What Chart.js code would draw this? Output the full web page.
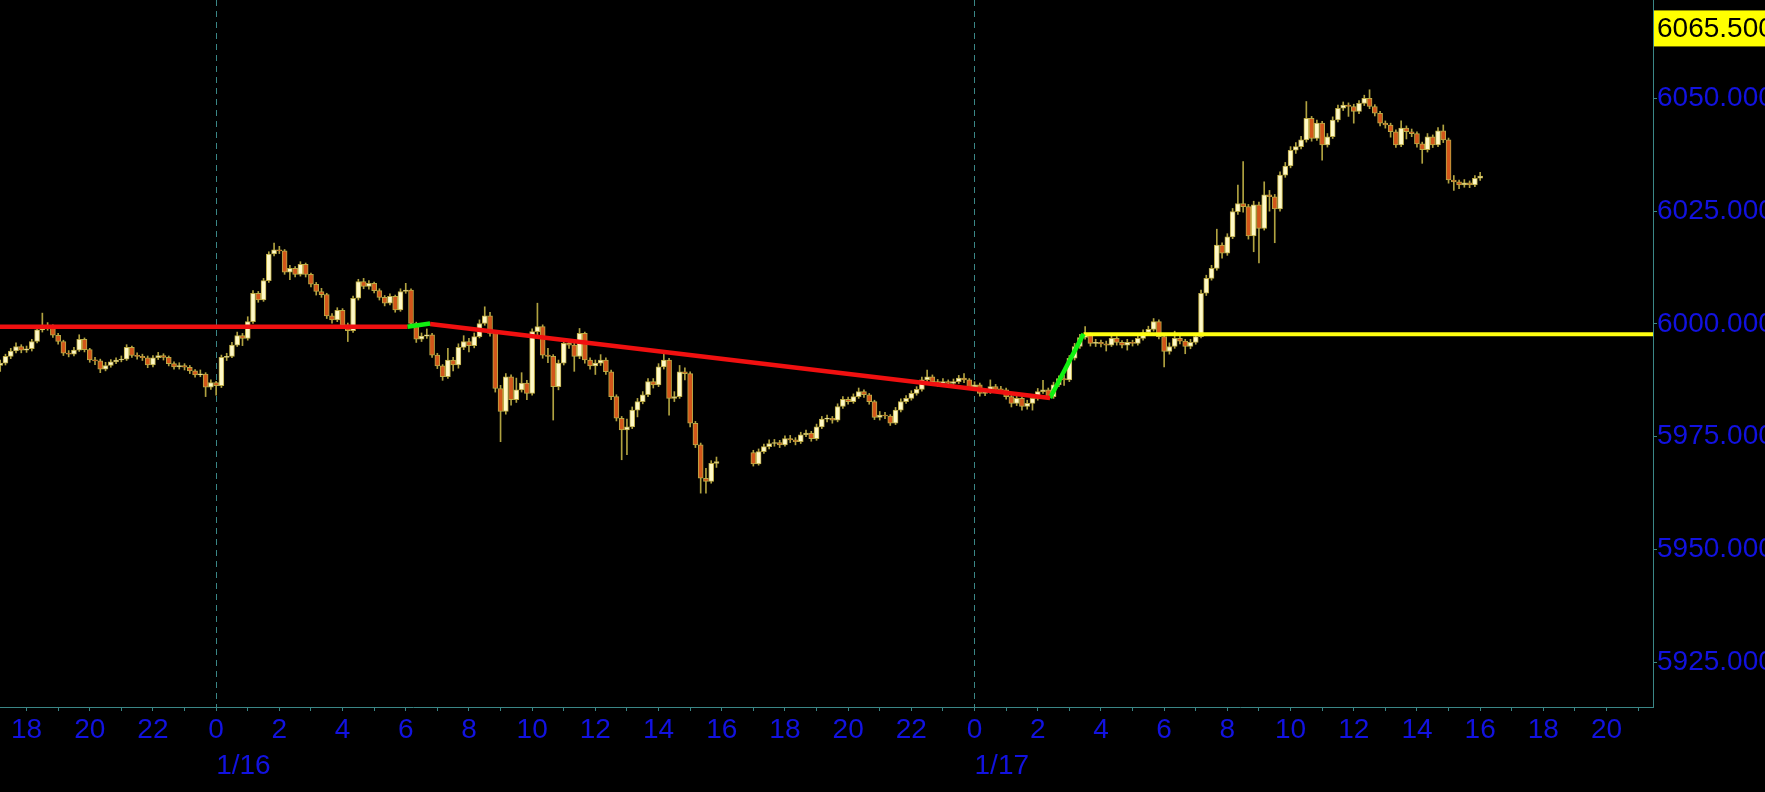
<!DOCTYPE html>
<html>
<head>
<meta charset="utf-8">
<script src="https://cdn.jsdelivr.net/npm/chart.js@4.4.1/dist/chart.umd.min.js"></script>
<style>
html,body{margin:0;padding:0;background:#000;overflow:hidden}
canvas{display:block}
</style>
</head>
<body>
<canvas id="c" width="1765" height="792"></canvas>
<script>
// ---- time layout of 10-minute bars (hours relative to 1/16 00:00) ----
const barMinutes = 10;
const session1StartHour = -41 / 6;   // 1/15 17:10
const session2StartHour = 17;        // 1/16 17:00

// ---- session 1 (1/15 17:10 - 1/16 15:50) ----
const opens1 = [
5990.8,5991.3,5992.8,5994.0,5995.0,5994.2,5994.5,5996.1,5998.7,5999.6,
5999.3,5997.5,5996.1,5993.5,5993.3,5994.2,5996.6,5994.3,5992.0,5991.8,
5990.0,5990.8,5991.6,5992.0,5992.2,5994.8,5993.0,5992.8,5992.5,5990.9,
5992.5,5993.0,5992.6,5991.2,5990.5,5990.8,5990.4,5989.6,5988.7,5988.9,
5986.0,5987.0,5986.3,5992.6,5992.8,5995.3,5997.4,5996.8,6000.5,6006.8,
6005.3,6009.6,6015.5,6016.4,6016.2,6011.5,6012.3,6011.0,6013.2,6011.0,
6008.8,6007.2,6006.5,6001.8,6000.9,6003.0,5999.8,5998.5,6005.7,6009.4,
6008.3,6009.0,6007.4,6005.9,6004.6,6006.1,6003.1,6007.2,6007.5,6000.1,
5996.6,5997.3,5997.6,5993.1,5990.7,5988.3,5992.0,5990.9,5994.8,5996.1,
5995.2,5997.2,6000.1,6001.8,5997.9,5985.7,5980.6,5988.3,5983.2,5985.4,
5986.9,5984.6,5998.3,5999.4,5993.1,5992.8,5986.1,5991.3,5995.7,5995.3,
5992.8,5997.9,5992.0,5990.7,5991.3,5992.0,5989.4,5983.9,5979.1,5976.5,
5977.2,5980.9,5982.8,5984.3,5987.2,5986.5,5990.5,5992.0,5983.5,5983.9,
5989.4,5989.0,5978.0,5973.2,5965.8,5965.1,5969.1];
const highs1 = [
5992.0,5993.3,5994.6,5995.8,5995.4,5995.1,5996.6,5999.2,6002.4,6000.3,
5999.8,5997.9,5996.4,5994.1,5994.8,5997.6,5996.9,5994.6,5992.6,5992.2,
5991.5,5992.1,5992.5,5992.9,5995.4,5995.1,5993.6,5993.3,5992.9,5993.0,
5993.7,5993.4,5992.9,5991.6,5991.4,5991.2,5990.8,5989.9,5989.8,5989.2,
5987.6,5987.3,5993.1,5993.5,5995.9,5998.2,5997.9,6001.6,6007.4,6007.2,
6010.1,6016.0,6017.9,6017.2,6016.5,6013.0,6012.7,6013.8,6013.5,6011.3,
6009.2,6007.9,6006.8,6002.3,6003.6,6003.4,6000.2,6006.2,6009.9,6010.1,
6009.6,6009.3,6007.8,6006.3,6006.7,6006.4,6007.8,6009.0,6007.8,6000.4,
5998.0,5998.9,5997.9,5993.5,5991.0,5994.6,5992.6,5995.6,5997.4,5996.8,
5998.0,6000.9,6003.8,6002.6,5998.3,5986.4,5989.0,5988.7,5988.0,5989.2,
5987.5,5998.9,6004.6,5999.8,5994.6,5993.2,5992.0,5996.4,5996.3,5995.8,
5999.0,5998.2,5992.5,5992.0,5993.2,5992.5,5989.8,5984.3,5979.5,5978.9,
5981.6,5983.5,5985.0,5987.9,5987.9,5991.2,5993.5,5992.4,5985.0,5990.8,
5990.3,5989.4,5978.4,5973.6,5968.0,5969.7,5970.5];
const lows1 = [
5989.5,5990.9,5992.3,5993.6,5993.6,5993.7,5994.0,5995.8,5998.2,5998.6,
5997.0,5995.5,5993.0,5992.7,5992.9,5993.9,5993.8,5991.5,5991.0,5989.2,
5989.6,5990.4,5991.2,5991.6,5991.9,5992.6,5992.2,5991.9,5990.3,5990.5,
5992.1,5992.0,5990.7,5990.0,5990.0,5989.8,5989.0,5988.2,5988.3,5983.9,
5985.5,5984.2,5985.9,5991.9,5992.5,5995.0,5995.2,5996.4,6000.1,6004.8,
6005.0,6009.2,6015.1,6015.6,6011.0,6009.8,6010.4,6010.6,6010.4,6008.2,
6006.4,6005.9,6001.2,6000.2,6000.5,5999.3,5996.1,5998.1,6005.3,6007.8,
6007.7,6006.9,6005.3,6004.0,6004.2,6002.6,6002.8,6006.8,5999.6,5995.9,
5996.1,5996.8,5992.6,5990.1,5987.5,5987.9,5989.6,5990.2,5994.3,5993.8,
5994.7,5996.9,5999.7,5997.3,5984.9,5973.9,5980.0,5982.0,5982.6,5984.9,
5983.2,5984.2,5997.6,5992.4,5991.4,5978.7,5985.4,5990.9,5994.6,5989.5,
5992.3,5991.3,5990.0,5988.8,5990.8,5988.8,5983.2,5978.5,5969.9,5971.0,
5976.8,5979.4,5982.3,5983.9,5985.8,5986.1,5990.0,5979.8,5982.8,5983.5,
5987.6,5977.2,5972.6,5962.5,5962.5,5964.7,5968.2];
const closes1 = [
5991.3,5992.8,5994.0,5995.0,5994.2,5994.5,5996.1,5998.7,5999.6,5999.3,
5997.5,5996.1,5993.5,5993.3,5994.2,5996.6,5994.3,5992.0,5991.8,5990.0,
5990.8,5991.6,5992.0,5992.2,5994.8,5993.0,5992.8,5992.5,5990.9,5992.5,
5993.0,5992.6,5991.2,5990.5,5990.8,5990.4,5989.6,5988.7,5988.9,5986.0,
5987.0,5986.3,5992.6,5992.8,5995.3,5997.4,5996.8,6000.5,6006.8,6005.3,
6009.6,6015.5,6016.4,6016.2,6011.5,6012.3,6011.0,6013.2,6011.0,6008.8,
6007.2,6006.5,6001.8,6000.9,6003.0,5999.8,5998.5,6005.7,6009.4,6008.3,
6009.0,6007.4,6005.9,6004.6,6006.1,6003.1,6007.2,6007.5,6000.1,5996.6,
5997.3,5997.6,5993.1,5990.7,5988.3,5992.0,5990.9,5994.8,5996.1,5995.2,
5997.2,6000.1,6001.8,5997.9,5985.7,5980.6,5988.3,5983.2,5985.4,5986.9,
5984.6,5998.3,5999.4,5993.1,5992.8,5986.1,5991.3,5995.7,5995.3,5992.8,
5997.9,5992.0,5990.7,5991.3,5992.0,5989.4,5983.9,5979.1,5976.5,5977.2,
5980.9,5982.8,5984.3,5987.2,5986.5,5990.5,5992.0,5983.5,5983.9,5989.4,
5989.0,5978.0,5973.2,5965.8,5965.1,5969.1,5969.5];

// ---- session 2 (1/16 17:00 - 1/17 16:00) ----
const opens2 = [
5971.5,5969.0,5971.7,5972.8,5973.5,5973.7,5973.2,5974.6,5974.3,5973.9,
5975.4,5975.8,5974.6,5977.2,5978.9,5979.1,5978.7,5981.7,5983.3,5982.8,
5983.9,5985.0,5984.3,5982.8,5979.3,5979.8,5979.6,5978.0,5980.9,5982.8,
5983.5,5984.6,5985.5,5987.6,5988.3,5987.2,5986.8,5987.2,5986.8,5987.2,
5988.0,5987.6,5986.0,5986.5,5984.6,5985.0,5986.1,5985.5,5985.4,5983.9,
5982.4,5983.5,5981.7,5982.4,5983.5,5985.0,5985.4,5983.9,5986.5,5987.9,
5987.6,5992.4,5995.0,5997.0,5997.6,5995.7,5995.9,5995.6,5995.3,5996.8,
5995.9,5995.3,5995.9,5995.7,5996.8,5998.1,5998.8,6000.5,5997.2,5993.9,
5995.0,5996.8,5996.2,5995.0,5995.9,5997.2,6006.8,6010.1,6012.3,6017.5,
6015.7,6019.3,6024.9,6026.7,6026.0,6019.5,6026.4,6021.2,6028.6,6028.2,
6025.5,6033.0,6035.0,6038.5,6039.3,6040.8,6045.6,6041.1,6044.5,6039.7,
6041.5,6045.2,6047.8,6048.5,6048.2,6047.1,6048.9,6050.0,6048.2,6046.7,
6044.5,6044.1,6042.6,6039.7,6043.4,6042.6,6042.2,6039.9,6038.6,6041.5,
6039.7,6042.8,6040.8,6031.9,6031.5,6030.8,6031.3,6030.8,6032.3];
const highs2 = [
5972.0,5972.3,5973.4,5974.3,5974.4,5974.2,5975.2,5975.3,5974.8,5976.0,
5976.5,5976.2,5977.8,5979.5,5979.8,5979.5,5982.3,5983.9,5983.8,5984.5,
5985.8,5985.4,5984.6,5983.1,5980.6,5980.4,5979.9,5981.5,5983.4,5984.1,
5985.2,5986.1,5988.2,5989.8,5988.7,5987.7,5987.9,5987.6,5987.8,5988.6,
5989.0,5987.9,5987.2,5986.9,5985.7,5987.6,5986.6,5986.2,5985.8,5984.3,
5984.1,5983.9,5983.1,5984.1,5985.7,5987.5,5985.8,5987.1,5988.5,5988.6,
5993.0,5995.7,5997.7,5999.4,5998.0,5996.6,5996.4,5996.2,5997.8,5997.2,
5996.3,5996.6,5996.4,5997.4,5998.7,5999.5,6001.2,6000.9,5997.6,5995.8,
5998.4,5997.4,5996.6,5996.6,5997.9,6007.5,6010.8,6013.0,6021.0,6018.0,
6020.0,6025.6,6030.8,6036.0,6026.5,6027.2,6027.0,6031.5,6029.6,6028.7,
6033.7,6035.8,6039.3,6040.2,6041.6,6049.3,6046.0,6045.2,6044.9,6042.2,
6045.9,6048.5,6049.2,6049.0,6048.7,6049.5,6050.7,6051.9,6048.6,6047.1,
6045.0,6044.5,6043.0,6045.0,6043.9,6043.2,6042.6,6040.3,6042.2,6041.9,
6043.5,6044.1,6041.2,6032.9,6031.9,6032.0,6031.7,6032.9,6033.6];
const lows2 = [
5968.5,5968.7,5971.3,5972.3,5972.9,5972.6,5972.9,5973.7,5973.2,5973.5,
5975.0,5974.0,5974.2,5976.8,5978.3,5978.0,5978.3,5981.3,5982.2,5982.4,
5983.5,5983.7,5982.2,5978.8,5978.7,5979.0,5977.5,5977.7,5980.5,5982.4,
5983.1,5984.2,5985.1,5987.2,5986.6,5986.2,5986.3,5986.2,5986.4,5986.8,
5987.0,5985.5,5985.4,5984.0,5984.1,5984.6,5985.0,5984.7,5983.3,5981.6,
5981.9,5980.9,5981.1,5980.9,5983.1,5984.6,5983.3,5983.5,5986.1,5986.4,
5987.2,5992.0,5994.6,5996.6,5995.1,5995.0,5994.9,5994.0,5995.0,5995.3,
5994.7,5994.2,5995.1,5995.3,5996.4,5997.7,5998.4,5996.7,5990.5,5993.3,
5994.6,5995.6,5993.4,5994.5,5995.5,5996.9,6006.3,6009.7,6011.9,6014.6,
6015.2,6018.9,6024.3,6024.8,6018.8,6016.0,6013.5,6020.8,6025.0,6018.0,
6025.0,6032.5,6034.6,6037.8,6038.8,6040.3,6040.5,6040.7,6036.3,6039.2,
6041.1,6044.8,6047.3,6046.0,6044.5,6046.6,6048.4,6047.7,6046.1,6043.9,
6043.4,6041.4,6039.1,6039.3,6041.0,6041.5,6039.2,6035.6,6038.1,6039.1,
6039.3,6040.2,6031.2,6029.6,6030.0,6030.3,6030.2,6030.4,6031.8];
const closes2 = [
5969.0,5971.7,5972.8,5973.5,5973.7,5973.2,5974.6,5974.3,5973.9,5975.4,
5975.8,5974.6,5977.2,5978.9,5979.1,5978.7,5981.7,5983.3,5982.8,5983.9,
5985.0,5984.3,5982.8,5979.3,5979.8,5979.6,5978.0,5980.9,5982.8,5983.5,
5984.6,5985.5,5987.6,5988.3,5987.2,5986.8,5987.2,5986.8,5987.2,5988.0,
5987.6,5986.0,5986.5,5984.6,5985.0,5986.1,5985.5,5985.4,5983.9,5982.4,
5983.5,5981.7,5982.4,5983.5,5985.0,5985.4,5983.9,5986.5,5987.9,5987.6,
5992.4,5995.0,5997.0,5997.6,5995.7,5995.9,5995.6,5995.3,5996.8,5995.9,
5995.3,5995.9,5995.7,5996.8,5998.1,5998.8,6000.5,5997.2,5993.9,5995.0,
5996.8,5996.2,5995.0,5995.9,5997.2,6006.8,6010.1,6012.3,6017.5,6015.7,
6019.3,6024.9,6026.7,6026.0,6019.5,6026.4,6021.2,6028.6,6028.2,6025.5,
6033.0,6035.0,6038.5,6039.3,6040.8,6045.6,6041.1,6044.5,6039.7,6041.5,
6045.2,6047.8,6048.5,6048.2,6047.1,6048.9,6050.0,6048.2,6046.7,6044.5,
6044.1,6042.6,6039.7,6043.4,6042.6,6042.2,6039.9,6038.6,6041.5,6039.7,
6042.8,6040.8,6031.9,6031.5,6030.8,6031.3,6030.8,6032.3,6032.8];

// ---- indicator lines: [hour, price] ----
const redFlat = [[-7.2, 5999.4], [6.05, 5999.4]];
const greenUp1 = [[6.05, 5999.4], [6.77, 6000.1]];
const redDown = [[6.77, 6000.0], [26.39, 5983.6]];
const greenUp2 = [[26.39, 5983.6], [27.45, 5997.8]];
const yellowFlat = [[27.45, 5997.7], [46.0, 5997.7]];

// ---- axes ----
const xMin = -6.84, xMax = 45.47;
const yMin = 5915.1, yMax = 6071.8;
const yTickValues = [5925, 5950, 5975, 6000, 6025, 6050];
const xLabelHours = [-6,-4,-2,0,2,4,6,8,10,12,14,16,18,20,22,24,26,28,30,32,34,36,38,40,42,44];
const xTickLabels = ['18','20','22','0','2','4','6','8','10','12','14','16','18','20','22','0','2','4','6','8','10','12','14','16','18','20'];
const dateLabelHours = [0, 24];
const dateLabels = ['1/16', '1/17'];
const lastPriceLabel = 6065.5;

// ---- styles ----
const AXIS = '#3a8686';
const LABEL = '#1212e0';
const FONT = "'Liberation Sans', Arial, sans-serif";
const UP_FILL = '#fff9c6';
const DOWN_FILL = '#d2561a';
const EDGE = '#bcaa46';
const WICK = '#b0a240';

function buildCandles(start, o, h, l, c) {
  return o.map((v, i) => ({ x: start + i * barMinutes / 60, o: v, h: h[i], l: l[i], c: c[i] }));
}
const candles = buildCandles(session1StartHour, opens1, highs1, lows1, closes1)
  .concat(buildCandles(session2StartHour, opens2, highs2, lows2, closes2));
const wickData = candles.map(k => ({ x: k.x, y: [k.l, k.h] }));
const bodyData = candles.map(k => ({ x: k.x, y: [Math.min(k.o, k.c), Math.max(k.o, k.c)] }));
const bodyColors = candles.map(k => (k.c >= k.o ? UP_FILL : DOWN_FILL));
const pts = arr => arr.map(([x, y]) => ({ x, y }));

function lineDs(data, color, width) {
  return { type: 'line', data: pts(data), borderColor: color, borderWidth: width,
           pointRadius: 0, tension: 0, fill: false, order: 0, xAxisID: 'x', yAxisID: 'y' };
}
const noPad = s => { s.paddingTop = 0; s.paddingBottom = 0; s.paddingLeft = 0; s.paddingRight = 0; };

const bgPlugin = {
  id: 'bg',
  beforeDraw(chart) {
    const ctx = chart.ctx;
    ctx.save(); ctx.fillStyle = '#000'; ctx.fillRect(0, 0, chart.width, chart.height); ctx.restore();
  }
};
const priceBoxPlugin = {
  id: 'priceBox',
  afterDraw(chart) {
    const s = chart.scales.y, ctx = chart.ctx;
    const py = s.getPixelForValue(lastPriceLabel);
    ctx.save();
    ctx.fillStyle = '#ffff00';
    ctx.fillRect(s.left + 1, py - 18, chart.width - s.left, 36);
    ctx.fillStyle = '#000';
    ctx.font = '28px ' + FONT;
    ctx.textBaseline = 'middle';
    ctx.textAlign = 'left';
    ctx.fillText(lastPriceLabel.toFixed(3), s.left + 4, py + 1);
    ctx.restore();
  }
};

new Chart(document.getElementById('c'), {
  type: 'bar',
  data: {
    datasets: [
      lineDs(redFlat, '#f01010', 4.5),
      lineDs(greenUp1, '#10f010', 4.5),
      lineDs(redDown, '#f01010', 4.5),
      lineDs(greenUp2, '#10f010', 4.5),
      lineDs(yellowFlat, '#ffff10', 4),
      { type: 'bar', data: bodyData, backgroundColor: bodyColors, borderColor: EDGE, borderWidth: 1,
        borderSkipped: false, barThickness: 5, minBarLength: 1, grouped: false, order: 1,
        xAxisID: 'x', yAxisID: 'y' },
      { type: 'bar', data: wickData, backgroundColor: WICK, borderWidth: 0,
        barThickness: 1, grouped: false, order: 2, xAxisID: 'x', yAxisID: 'y' }
    ]
  },
  options: {
    responsive: false,
    animation: false,
    devicePixelRatio: 1,
    layout: { padding: 0, autoPadding: false },
    plugins: { legend: { display: false }, tooltip: { enabled: false } },
    scales: {
      x: {
        type: 'linear', position: 'bottom', min: xMin, max: xMax, offset: false, weight: 0,
        afterBuildTicks: s => { const t = []; for (let h = -6; h <= 45; h++) t.push({ value: h }); s.ticks = t; },
        afterFit: s => { s.height = 40; noPad(s); },
        grid: { display: true, drawOnChartArea: false, drawTicks: true, tickLength: 4, color: AXIS, offset: false },
        border: { display: true, color: AXIS, width: 1 },
        ticks: { autoSkip: false, maxRotation: 0, minRotation: 0, padding: 2, color: LABEL,
                 font: { family: FONT, size: 28 },
                 callback: v => { const k = xLabelHours.indexOf(v); return k >= 0 ? xTickLabels[k] : ''; } }
      },
      x2: {
        type: 'linear', position: 'bottom', min: xMin, max: xMax, offset: false, weight: 1,
        afterBuildTicks: s => { s.ticks = dateLabelHours.map(v => ({ value: v })); },
        afterFit: s => { s.height = 45; noPad(s); },
        grid: { display: true, drawOnChartArea: true, drawTicks: false, color: AXIS, lineWidth: 1, offset: false },
        border: { display: false, dash: [6, 5] },
        ticks: { autoSkip: false, maxRotation: 0, minRotation: 0, padding: 2, align: 'start', color: LABEL,
                 font: { family: FONT, size: 28 },
                 callback: v => { const k = dateLabelHours.indexOf(v); return k >= 0 ? dateLabels[k] : ''; } }
      },
      y: {
        type: 'linear', position: 'right', min: yMin, max: yMax,
        afterBuildTicks: s => { s.ticks = yTickValues.map(v => ({ value: v })); },
        afterFit: s => { s.width = 112; noPad(s); },
        grid: { display: true, drawOnChartArea: false, drawTicks: true, tickLength: 4, color: AXIS },
        border: { display: true, color: AXIS, width: 1 },
        ticks: { padding: 0, color: LABEL, font: { family: FONT, size: 28 }, callback: v => Number(v).toFixed(3) }
      }
    }
  },
  plugins: [bgPlugin, priceBoxPlugin]
});
</script>
</body>
</html>
